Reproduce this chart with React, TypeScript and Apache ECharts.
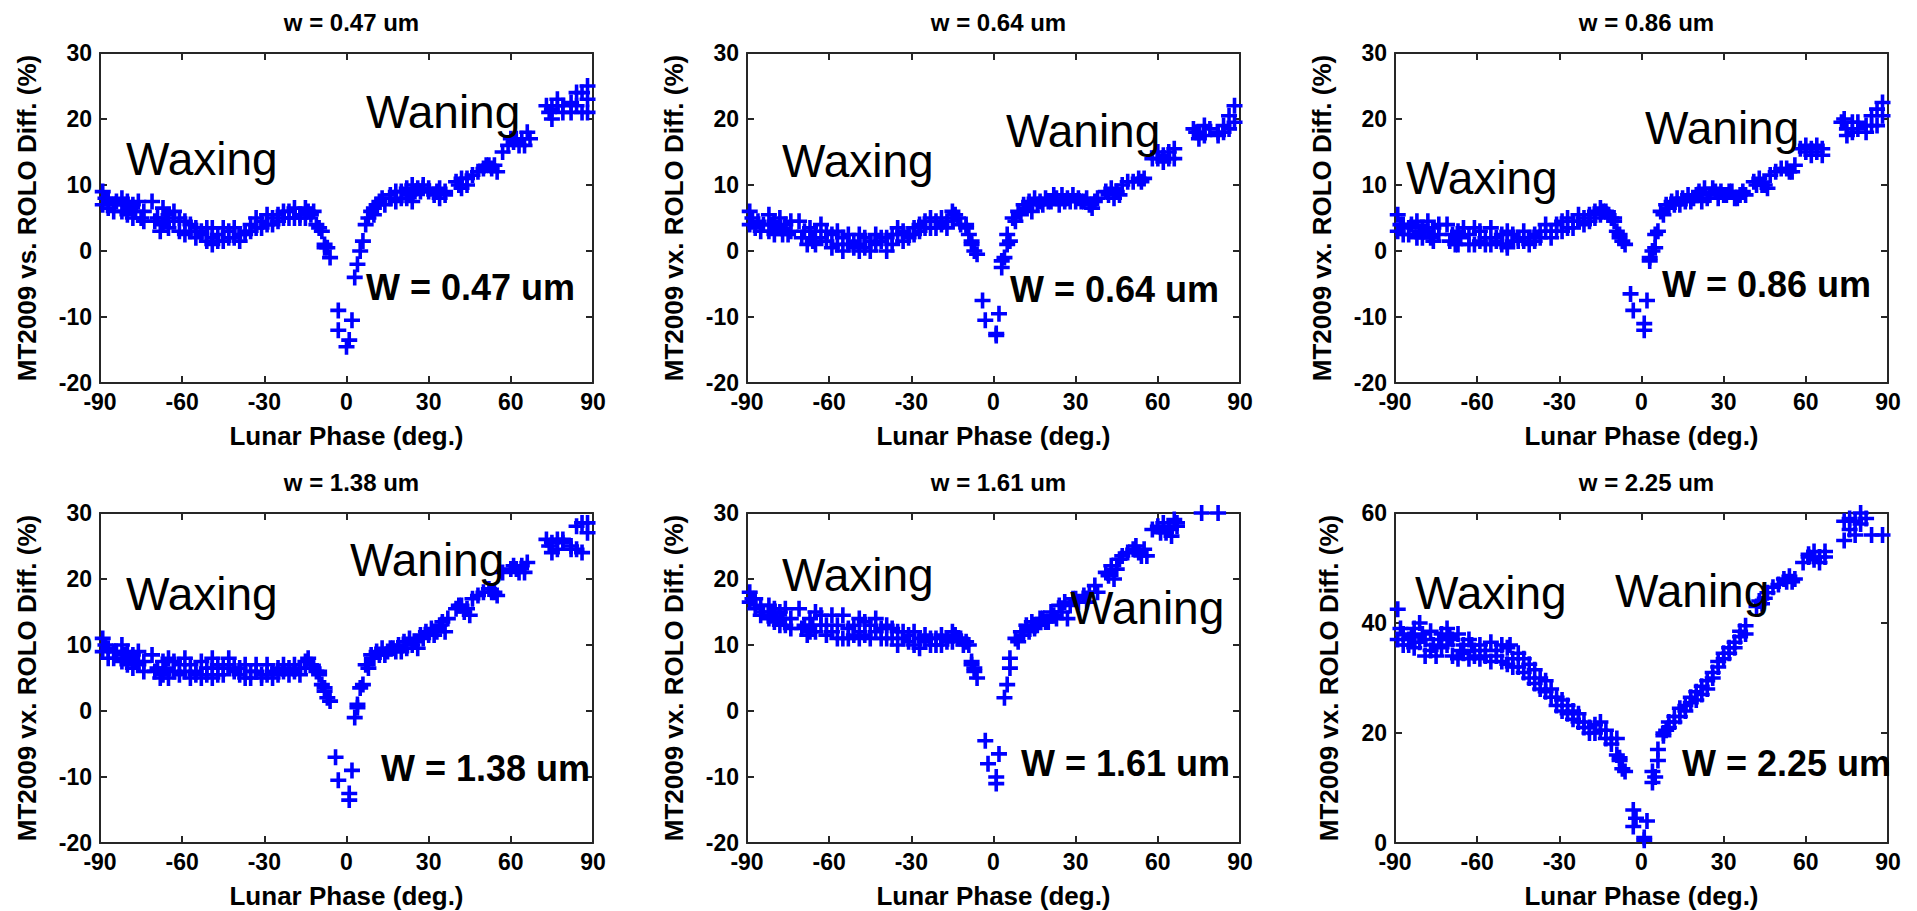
import React, { useEffect, useRef } from "react";
import * as echarts from "echarts";

// ---------------- data ----------------
const phaseTicks = [-90, -60, -30, 0, 30, 60, 90];
const panelTitles = ["w = 0.47 um", "w = 0.64 um", "w = 0.86 um", "w = 1.38 um", "w = 1.61 um", "w = 2.25 um"];
const bandLabels = ["W = 0.47 um", "W = 0.64 um", "W = 0.86 um", "W = 1.38 um", "W = 1.61 um", "W = 2.25 um"];
const yNames = [
  "MT2009 vs. ROLO Diff. (%)",
  "MT2009 vx. ROLO Diff. (%)",
  "MT2009 vx. ROLO Diff. (%)",
  "MT2009 vx. ROLO Diff. (%)",
  "MT2009 vx. ROLO Diff. (%)",
  "MT2009 vx. ROLO Diff. (%)",
];
const xName = "Lunar Phase (deg.)";
const yMins = [-20, -20, -20, -20, -20, 0];
const yMaxs = [30, 30, 30, 30, 30, 60];
const ySteps = [10, 10, 10, 10, 10, 20];

const diff047 = [
  [-89, 9], [-89, 7], [-88, 8], [-87, 8], [-87, 6.5], [-85, 7], [-85, 6], [-84, 7.5], [-82, 8], [-82, 6], [-81, 7], [-80, 7.5], [-80, 5.5], [-79, 6.5], [-78, 7], [-78, 5], [-77, 6], [-76, 7.5], [-75, 5], [-74, 6], [-74, 4.5], [-71, 7.5], [-70, 4.5], [-69, 5], [-68, 3], [-67, 6.5], [-67, 4], [-66, 5], [-65, 5.5], [-65, 3.5], [-63, 6], [-63, 4.5], [-61, 3], [-61, 5], [-59, 4.5], [-59, 2.5], [-57, 3], [-57, 4], [-55, 2], [-55, 3.5], [-53, 3], [-53, 2.5], [-51, 1.5], [-51, 3.5], [-49, 2], [-49, 1], [-49, 3.5], [-47, 2.5], [-47, 1.5], [-45, 3.5], [-45, 1.5], [-43, 2], [-43, 3], [-41, 3.5], [-41, 2], [-39, 1.5], [-39, 2.5], [-37, 3], [-37, 2.5], [-35, 4], [-35, 3], [-33, 5], [-33, 3.5], [-31, 4.5], [-31, 3.5], [-29, 5.5], [-29, 4], [-27, 5], [-27, 4], [-25, 5.5], [-25, 4.5], [-23, 5], [-23, 6], [-21, 6], [-21, 5], [-19, 6.5], [-19, 5], [-17, 5.5], [-17, 5], [-15, 6.5], [-15, 5], [-14, 6], [-13, 5.5], [-12, 6], [-11, 4], [-10, 3.5], [-9, 3], [-8, 1], [-8, 0.5], [-7, 0.5], [-6, -1],
  [-3, -9], [-3, -12], [0, -14.5], [1, -13.5], [2, -10.5], [3, -4], [4, -2], [5, 0], [6, 1.5], [7, 4], [8, 5], [9, 6], [10, 5.5], [10, 6.5], [11, 7], [12, 7.5], [13, 8], [14, 7], [16, 8.5], [16, 8], [18, 9], [18, 7.5], [20, 8], [20, 9], [22, 9.5], [22, 8], [23, 8.5], [24, 10], [24, 7.5], [25, 9], [26, 9.5], [27, 9], [28, 9.5], [28, 10], [30, 9], [30, 9.5], [32, 8.5], [33, 9], [34, 8], [34, 9.5], [36, 8.5], [36, 9], [40, 10.5], [41, 10], [42, 11], [42, 9.5], [44, 10], [44, 11], [46, 11.5], [48, 12], [50, 12.5], [51, 13], [52, 13], [53, 12.5], [54, 13], [55, 12], [57, 15], [59, 16], [60, 17], [61, 16.5], [62, 17], [63, 16], [64, 17], [65, 16], [66, 18], [67, 17], [73, 22], [74, 21], [75, 21.5], [75, 20], [77, 22], [77, 23], [79, 22], [79, 21], [82, 22.5], [82, 21], [84, 24], [84, 22], [86, 24], [86, 21], [88, 25], [88, 23], [88, 21],
];

const diff064 = [
  [-89, 6], [-89, 4], [-88, 5], [-87, 3.5], [-86, 4.5], [-85, 3], [-84, 4], [-82, 5.5], [-82, 3], [-81, 4], [-80, 4.5], [-80, 2.5], [-79, 3.5], [-78, 5], [-78, 3.5], [-77, 2.5], [-76, 4], [-75, 2.5], [-74, 3], [-74, 4.5], [-71, 4.5], [-70, 2], [-69, 3], [-68, 1], [-67, 2], [-67, 3.5], [-66, 1.5], [-65, 1], [-65, 3], [-63, 4], [-63, 2], [-61, 1.5], [-61, 3], [-59, 0.5], [-59, 2.5], [-57, 1], [-57, 3], [-55, 0], [-55, 2], [-53, 1], [-53, 2.5], [-51, 0.5], [-51, 1.5], [-49, 0], [-49, 1], [-49, 2.5], [-47, 0.5], [-47, 2], [-45, 0], [-45, 1.5], [-43, 2.5], [-43, 1], [-41, 1.5], [-41, 2], [-39, 0], [-39, 2], [-37, 1], [-37, 2.5], [-35, 2.5], [-35, 3.5], [-33, 1.5], [-33, 3], [-31, 2], [-31, 2.5], [-29, 3.5], [-29, 2.5], [-27, 4], [-27, 3], [-25, 3.5], [-25, 4.5], [-23, 5], [-23, 3.5], [-21, 4.5], [-21, 3.5], [-19, 4], [-19, 5], [-17, 4.5], [-17, 3.5], [-15, 6], [-15, 5], [-14, 5.5], [-13, 5], [-12, 4], [-10, 4], [-10, 3.5], [-9, 2.5], [-8, 1.5], [-8, 1], [-7, 0], [-6, -0.5],
  [-4, -7.5], [-3, -10.5], [1, -12.5], [1, -12.8], [2, -9.5], [3, -2.5], [3, -1.5], [4, -1], [5, 1], [5, 2.5], [6, 1.5], [7, 5], [8, 4.5], [9, 6], [10, 5.5], [11, 7], [12, 6.5], [13, 7.5], [14, 6], [15, 8], [16, 7], [17, 7.5], [18, 7], [19, 8], [20, 7.5], [21, 7.5], [22, 8.5], [23, 8], [24, 7], [25, 8.5], [26, 7.5], [27, 8], [28, 7.5], [29, 8.5], [30, 7.5], [31, 8], [32, 7.5], [33, 7.5], [34, 8], [35, 7], [36, 6.5], [37, 7.5], [38, 8], [41, 9], [42, 8.5], [43, 9.5], [44, 8], [45, 9], [46, 8.5], [47, 10], [49, 10.5], [51, 10.5], [53, 11], [54, 10.5], [55, 11], [58, 14], [60, 14], [60, 15], [62, 14.5], [62, 13.5], [64, 15], [64, 14], [66, 15.5], [66, 14], [73, 18.5], [74, 18], [75, 18], [75, 17], [77, 19], [77, 17.5], [79, 18.5], [82, 18], [82, 17.5], [84, 19], [84, 18], [86, 20.5], [86, 18.5], [88, 22], [88, 19.5],
];

const diff086 = [
  [-89, 5.5], [-89, 3], [-88, 4], [-87, 4], [-87, 2.5], [-85, 3.5], [-85, 2.5], [-84, 4], [-82, 4.5], [-82, 2], [-81, 3], [-80, 3.5], [-80, 2], [-79, 3], [-78, 4.5], [-78, 3], [-77, 2], [-76, 3.5], [-76, 1.5], [-74, 2.5], [-74, 4], [-71, 4], [-70, 1.5], [-69, 2.5], [-68, 1], [-67, 3], [-67, 1], [-66, 2], [-65, 3.5], [-63, 1], [-63, 2.5], [-61, 3.5], [-61, 1], [-59, 1.5], [-59, 3], [-57, 1], [-57, 2], [-55, 3.5], [-55, 1], [-53, 2], [-53, 1.5], [-51, 1], [-51, 2.5], [-49, 1], [-49, 3], [-49, 0.5], [-47, 1.5], [-47, 2.5], [-45, 1.5], [-45, 2], [-43, 3], [-43, 1.5], [-41, 2], [-41, 1], [-39, 2.5], [-39, 1.5], [-37, 3], [-37, 2], [-35, 4], [-35, 3], [-33, 3], [-33, 2], [-31, 4], [-31, 3], [-29, 4.5], [-29, 3], [-27, 5], [-27, 3.5], [-25, 4.5], [-25, 3.5], [-23, 5.5], [-23, 4.5], [-21, 5], [-21, 4], [-19, 5.5], [-19, 4.5], [-17, 5], [-17, 6], [-15, 6.5], [-15, 5.5], [-14, 6], [-13, 6], [-12, 5.5], [-11, 5], [-10, 5], [-10, 4.5], [-9, 3], [-8, 2.5], [-8, 2], [-7, 1.5], [-6, 1],
  [-4, -6.5], [-3, -9], [1, -11], [1, -12], [2, -7.5], [3, -1.5], [3, -1], [4, 0], [5, 0.5], [5, 2.5], [6, 3], [7, 6], [8, 5.5], [9, 7], [10, 6.5], [11, 7.5], [12, 7], [13, 8], [14, 7], [15, 8], [16, 7.5], [17, 8.5], [18, 7.5], [19, 8], [20, 8.5], [21, 9], [22, 7.5], [23, 9.5], [24, 8], [25, 8.5], [26, 9.5], [27, 9], [28, 8], [29, 9], [30, 8.5], [31, 8.5], [32, 9], [33, 9], [34, 8], [35, 8], [36, 8.5], [37, 9], [38, 8.5], [41, 10.5], [42, 10], [43, 11], [44, 10], [45, 10], [46, 9.5], [47, 11.5], [49, 12], [51, 12.5], [53, 12.5], [54, 12], [55, 12], [56, 13], [58, 15.5], [60, 15], [60, 16], [62, 15.5], [62, 14.5], [64, 16], [64, 15], [66, 15.5], [66, 14.5], [73, 19.5], [74, 20], [75, 18.5], [75, 17.5], [77, 19.5], [77, 18], [79, 19.5], [79, 18.5], [82, 19], [82, 18], [84, 20.5], [84, 19], [86, 21.5], [86, 19], [88, 22.5], [88, 20.5],
];

const diff138 = [
  [-89, 11], [-89, 9], [-88, 10], [-87, 9.5], [-87, 8], [-85, 9], [-85, 8], [-84, 9], [-82, 10], [-82, 7.5], [-81, 8.5], [-80, 9], [-80, 7], [-79, 8], [-78, 8.5], [-78, 6.5], [-77, 7.5], [-76, 9], [-76, 7], [-74, 7.5], [-74, 6], [-71, 8.5], [-70, 6], [-69, 6.5], [-68, 5], [-67, 7.5], [-67, 5.5], [-66, 6.5], [-65, 8], [-65, 5], [-63, 6], [-63, 7.5], [-61, 5.5], [-61, 7], [-59, 8], [-59, 6], [-57, 5], [-57, 7], [-55, 6], [-55, 5.5], [-53, 7.5], [-53, 5], [-51, 6.5], [-51, 5.5], [-49, 8], [-49, 5], [-49, 6.5], [-47, 7], [-47, 5.5], [-45, 5.5], [-45, 6.5], [-43, 8], [-43, 7], [-41, 6.5], [-41, 6], [-39, 5.5], [-39, 6.5], [-37, 7], [-37, 5], [-35, 6], [-35, 5], [-33, 7], [-33, 6], [-31, 5.5], [-31, 5], [-29, 7], [-29, 5.5], [-27, 6], [-27, 5], [-25, 6.5], [-25, 5.5], [-23, 6], [-23, 7], [-21, 6.5], [-21, 5.5], [-19, 6], [-19, 7], [-17, 6.5], [-17, 5.5], [-15, 7.5], [-15, 6.5], [-14, 8], [-13, 7], [-12, 6.5], [-11, 6], [-10, 6], [-10, 5.5], [-9, 4], [-8, 3.5], [-8, 3], [-7, 2], [-6, 1.5],
  [-4, -7], [-3, -10.5], [1, -12.5], [1, -13.5], [2, -9], [3, -1], [4, 0.5], [4, 1], [5, 3.5], [6, 4], [7, 7], [8, 6.5], [9, 8.5], [10, 8], [11, 9], [12, 8.5], [13, 9.5], [14, 8.5], [15, 9], [16, 9.5], [17, 9.5], [18, 9], [19, 10], [20, 9], [21, 10.5], [22, 9.5], [23, 11], [24, 10], [25, 10.5], [26, 9.5], [27, 11.5], [28, 11], [29, 12], [30, 11.5], [31, 12.5], [32, 11.5], [33, 12], [34, 13], [35, 13.5], [36, 12], [37, 14], [40, 15.5], [41, 16], [42, 16], [43, 15], [44, 15.5], [45, 14.5], [46, 17], [48, 17.5], [50, 18], [52, 18.5], [53, 18], [54, 18], [55, 17.5], [57, 21], [60, 21.5], [61, 22], [62, 21.5], [63, 21], [64, 22], [65, 21], [66, 22.5], [73, 26], [74, 25], [75, 25.5], [75, 24], [77, 26], [77, 24.5], [79, 25.5], [79, 26], [82, 25], [82, 24.5], [84, 28], [84, 24.5], [86, 28.5], [86, 24], [88, 28.5], [88, 27],
];

const diff161 = [
  [-89, 18], [-89, 16.5], [-88, 17], [-87, 17], [-87, 15.5], [-85, 16], [-85, 14.5], [-84, 15], [-82, 16], [-82, 14], [-81, 15], [-80, 15.5], [-80, 13.5], [-79, 14], [-78, 15], [-78, 13], [-77, 14], [-76, 15.5], [-76, 13], [-74, 14], [-74, 12.5], [-71, 15.5], [-70, 12.5], [-69, 13], [-68, 11.5], [-67, 14], [-67, 12], [-66, 13], [-65, 15], [-65, 12], [-63, 13], [-63, 14.5], [-61, 11.5], [-61, 13], [-59, 14.5], [-59, 12], [-57, 11], [-57, 13], [-55, 14.5], [-55, 11], [-53, 12.5], [-53, 11], [-51, 13], [-51, 11.5], [-49, 14], [-49, 11], [-49, 12], [-47, 13.5], [-47, 11.5], [-45, 13], [-45, 11], [-43, 14], [-43, 12], [-41, 12.5], [-41, 11], [-39, 13], [-39, 11], [-37, 11], [-37, 12.5], [-35, 12], [-35, 10], [-33, 11], [-33, 12], [-31, 10.5], [-31, 11.5], [-29, 12], [-29, 10], [-27, 11], [-27, 9.5], [-25, 10.5], [-25, 11.5], [-23, 10], [-23, 11], [-21, 11], [-21, 10], [-19, 11.5], [-19, 10], [-17, 10.5], [-17, 11], [-15, 12], [-15, 10.5], [-14, 11.5], [-13, 11], [-12, 11], [-11, 10], [-10, 10.5], [-9, 10], [-8, 7.5], [-8, 7], [-7, 6.5], [-7, 6], [-6, 5],
  [-3, -4.5], [-2, -8], [1, -10], [1, -11], [2, -6.5], [4, 2], [5, 4], [6, 6.5], [6, 8], [8, 11], [9, 10.5], [10, 12], [11, 11.5], [12, 13], [13, 12], [14, 13.5], [15, 12.5], [16, 13], [17, 14], [18, 14], [19, 13.5], [20, 13.5], [21, 15], [22, 14.5], [23, 14], [24, 16], [25, 15], [26, 16.5], [27, 14], [28, 16], [29, 17], [30, 17], [31, 16.5], [33, 17.5], [34, 16.5], [35, 18], [37, 19], [38, 18], [41, 21], [42, 20.5], [43, 22], [44, 20], [45, 21.5], [46, 23], [47, 23.5], [49, 24], [51, 24.5], [52, 25], [53, 24], [54, 23.5], [55, 24.5], [56, 23.5], [58, 27.5], [60, 28], [61, 27], [62, 28.5], [63, 27], [64, 27.5], [65, 26.5], [66, 29], [67, 28], [67, 28.5], [76, 30], [82, 30],
];

const diff225 = [
  [-89, 42.5], [-89, 37], [-88, 39], [-87, 38], [-87, 36], [-85, 37], [-85, 36], [-84, 37.5], [-83, 39], [-83, 35.5], [-81, 40], [-81, 36.5], [-80, 38], [-79, 37], [-79, 34], [-77, 38.5], [-77, 35], [-76, 36], [-75, 34], [-74, 37], [-73, 38], [-73, 35.5], [-71, 39], [-71, 36], [-70, 37.5], [-69, 37], [-69, 34], [-67, 38], [-67, 33.5], [-66, 35], [-65, 36], [-65, 34.5], [-63, 37], [-63, 33.5], [-62, 36], [-61, 35], [-61, 34], [-59, 36], [-59, 33.5], [-57, 35], [-57, 34], [-55, 36.5], [-55, 33], [-53, 35], [-53, 34], [-51, 36], [-51, 33], [-49, 35.5], [-49, 32.5], [-48, 36], [-47, 33.5], [-47, 32], [-45, 34.5], [-45, 32], [-43, 33.5], [-43, 31], [-41, 32.5], [-41, 30], [-39, 31.5], [-39, 29], [-37, 30], [-37, 28], [-35, 29.5], [-35, 27.5], [-33, 28], [-33, 26.5], [-31, 26.5], [-31, 25], [-29, 26], [-29, 24], [-27, 25], [-27, 23.5], [-25, 24], [-25, 22.5], [-23, 23.5], [-23, 22], [-21, 22], [-21, 21], [-19, 21], [-19, 20], [-17, 21.5], [-17, 20], [-15, 22], [-15, 20.5], [-13, 20.5], [-13, 19], [-11, 19], [-11, 18], [-9, 19], [-9, 16], [-8, 15.5], [-8, 15], [-7, 13.5], [-6, 13],
  [-3, 6], [-3, 3], [-2, 4.5], [1, 0.5], [1, 1], [2, 4], [4, 11], [4, 13], [5, 12], [6, 15], [6, 17], [8, 20], [8, 19.5], [9, 20.5], [10, 21], [10, 22], [12, 22], [12, 23], [14, 23], [14, 24.5], [16, 24], [16, 25], [18, 25.5], [18, 26.5], [20, 26], [20, 27.5], [22, 27], [22, 28.5], [24, 28], [24, 29.5], [26, 31], [26, 30], [28, 33], [28, 32], [30, 34.5], [30, 33.5], [32, 35.5], [32, 34.5], [34, 36.5], [34, 35.5], [36, 37.5], [36, 38.5], [38, 39.5], [38, 38], [42, 43], [43, 44], [44, 43.5], [45, 44.5], [46, 45.5], [48, 46.5], [50, 47], [52, 48], [53, 47.5], [54, 48.5], [55, 47.5], [56, 48], [59, 51], [61, 52], [61, 52.5], [63, 53], [63, 51.5], [65, 52], [65, 51], [67, 53], [67, 52], [74, 58.5], [74, 55], [76, 59], [76, 57], [78, 58.5], [78, 56], [80, 60], [80, 58], [82, 59], [84, 56], [88, 56],
];

const panelData = [diff047, diff064, diff086, diff138, diff161, diff225];

// ---------------- layout / style ----------------
const COL_LEFT = [100, 747, 1395];
const ROW_TOP = [53, 513];
const GW = 493;
const GH = 330;
const FONT = '"Liberation Sans", Arial, sans-serif';
const AXIS_COLOR = "#262626";
const PLUS = "path://M6.2,0H9.8V6.2H16V9.8H9.8V16H6.2V9.8H0V6.2H6.2Z";

// annotation anchors (left x, vertical centre y) in pixels
const waxPos = [[126, 159], [782, 161], [1406, 178], [126, 594], [782, 575], [1415, 593]];
const wanPos = [[366, 112], [1006, 131], [1645, 128], [350, 560], [1070, 608], [1615, 591]];
const bandPos = [[366, 287], [1010, 289], [1662, 284], [381, 768], [1021, 763], [1682, 763]];
const yNameGap = [60, 60, 60, 60, 60, 53];

function buildOption() {
  const grid: any[] = [];
  const xAxis: any[] = [];
  const yAxis: any[] = [];
  const series: any[] = [];
  const title: any[] = [];
  const graphic: any[] = [];
  const lineStyle = { color: AXIS_COLOR, width: 2 };
  const labelStyle = { fontSize: 23, fontWeight: "bold", fontFamily: FONT, color: "#000" };
  const nameStyle = { fontSize: 26, fontWeight: "bold", fontFamily: FONT, color: "#000" };

  for (let i = 0; i < 6; i++) {
    const left = COL_LEFT[i % 3];
    const top = ROW_TOP[Math.floor(i / 3)];
    grid.push({ left, top, width: GW, height: GH, containLabel: false });

    xAxis.push({
      gridIndex: i, type: "value", position: "bottom",
      min: phaseTicks[0], max: phaseTicks[phaseTicks.length - 1], interval: 30,
      axisLine: { show: true, onZero: false, lineStyle },
      axisTick: { show: true, inside: true, length: 7, lineStyle },
      splitLine: { show: false },
      axisLabel: { ...labelStyle, margin: 7 },
      name: xName, nameLocation: "middle", nameGap: 40,
      nameTextStyle: nameStyle,
    });
    xAxis.push({
      gridIndex: i, type: "value", position: "top",
      min: phaseTicks[0], max: phaseTicks[phaseTicks.length - 1], interval: 30,
      axisLine: { show: true, onZero: false, lineStyle },
      axisTick: { show: true, inside: true, length: 7, lineStyle },
      splitLine: { show: false },
      axisLabel: { show: false },
    });
    yAxis.push({
      gridIndex: i, type: "value", position: "left",
      min: yMins[i], max: yMaxs[i], interval: ySteps[i],
      axisLine: { show: true, onZero: false, lineStyle },
      axisTick: { show: true, inside: true, length: 7, lineStyle },
      splitLine: { show: false },
      axisLabel: { ...labelStyle, margin: 8 },
      name: yNames[i], nameLocation: "middle", nameGap: yNameGap[i], nameRotate: 90,
      nameTextStyle: nameStyle,
    });
    yAxis.push({
      gridIndex: i, type: "value", position: "right",
      min: yMins[i], max: yMaxs[i], interval: ySteps[i],
      axisLine: { show: true, onZero: false, lineStyle },
      axisTick: { show: true, inside: true, length: 7, lineStyle },
      splitLine: { show: false },
      axisLabel: { show: false },
    });

    series.push({
      type: "scatter",
      xAxisIndex: i * 2,
      yAxisIndex: i * 2,
      data: panelData[i],
      symbol: PLUS,
      symbolSize: 16,
      itemStyle: { color: "#0000ff", opacity: 1 },
      clip: false,
    });

    title.push({
      text: panelTitles[i],
      left: left + GW / 2,
      top: top - 48,
      textAlign: "center",
      textStyle: { fontSize: 24, fontWeight: "bold", fontFamily: FONT, color: "#000" },
    });

    const mk = (txt: string, pos: number[], size: number, weight: string) => ({
      type: "text",
      x: pos[0],
      y: pos[1],
      z: 100,
      style: {
        text: txt,
        fill: "#000",
        fontSize: size,
        fontWeight: weight,
        fontFamily: FONT,
        textAlign: "left",
        textVerticalAlign: "middle",
        verticalAlign: "middle",
      },
    });
    graphic.push(mk("Waxing", waxPos[i], 46, "normal"));
    graphic.push(mk("Waning", wanPos[i], 46, "normal"));
    graphic.push(mk(bandLabels[i], bandPos[i], 36, "bold"));
  }

  return {
    animation: false,
    backgroundColor: "#ffffff",
    title,
    grid,
    xAxis,
    yAxis,
    series,
    graphic,
  };
}

export default function App() {
  const ref = useRef<HTMLDivElement>(null);
  useEffect(() => {
    if (!ref.current) return;
    const chart = echarts.init(ref.current, undefined, { renderer: "svg" });
    chart.setOption(buildOption() as any);
    return () => chart.dispose();
  }, []);
  return (
    <div
      ref={ref}
      style={{ position: "absolute", left: 0, top: 0, width: 1917, height: 911, background: "#fff" }}
    />
  );
}
